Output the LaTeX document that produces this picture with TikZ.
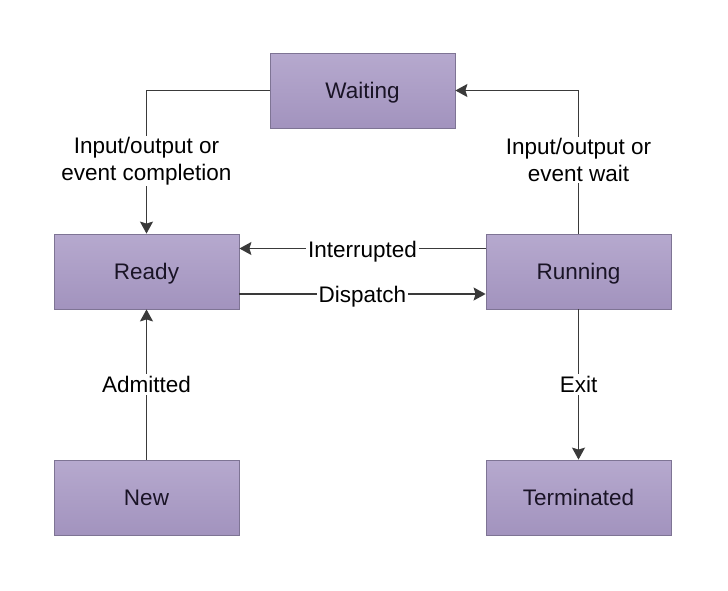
\documentclass[tikz,border=0pt]{standalone}
\usepackage{fontspec}
\setmainfont{Liberation Sans}
\usetikzlibrary{arrows.meta}
\definecolor{boxtop}{HTML}{B6A9CE}
\definecolor{boxbot}{HTML}{A293BE}
\definecolor{boxline}{HTML}{7E7494}
\definecolor{linecol}{HTML}{3A3A3A}
\definecolor{boxtext}{HTML}{1A1426}
\begin{document}
\begin{tikzpicture}[x=1pt,y=-1pt,
  state/.style={draw=boxline, line width=0.8pt, top color=boxtop, bottom color=boxbot,
    minimum width=185pt, minimum height=75pt, inner sep=0pt,
    text height=16.1pt, text depth=0pt,
    font=\fontsize{22.5}{27}\selectfont, text=boxtext},
  conn/.style={draw=linecol, line width=1.5pt, -{Stealth[length=12pt,width=13pt,inset=2pt]}},
  lbl/.style={fill=white, inner xsep=2pt, inner ysep=1pt, align=center,
    font=\fontsize{22.5}{27}\selectfont, text=black},
  lbl1/.style={lbl, text height=16.1pt, text depth=0pt, inner ysep=2pt}]
\useasboundingbox (0,0) rectangle (728,590);
\fill[white] (0,0) rectangle (728,590);

\node[state] (waiting) at (362.5,90.5) {Waiting};
\node[state] (ready)   at (146.5,271.5) {Ready};
\node[state] (running) at (578.5,271.5) {Running};
\node[state] (new)     at (146.5,497.5) {New};
\node[state] (term)    at (578.5,497.5) {Terminated};

\draw[conn] (waiting.west) -| node[lbl, pos=0.75, yshift=1pt] {Input/output or\\event completion} (ready.north);
\draw[conn] (running.north) |- node[lbl, pos=0.25, yshift=2pt] {Input/output or\\event wait} (waiting.east);
\draw[conn] ([yshift=23pt]running.west) -- node[lbl1, yshift=-1pt] {Interrupted} ([yshift=23pt]ready.east);
\draw[conn] ([yshift=-22.5pt]ready.east) -- node[lbl1] {Dispatch} ([yshift=-22.5pt]running.west);
\draw[conn] (new.north) -- node[lbl1] {Admitted} (ready.south);
\draw[conn] (running.south) -- node[lbl1] {Exit} (term.north);
\end{tikzpicture}
\end{document}
